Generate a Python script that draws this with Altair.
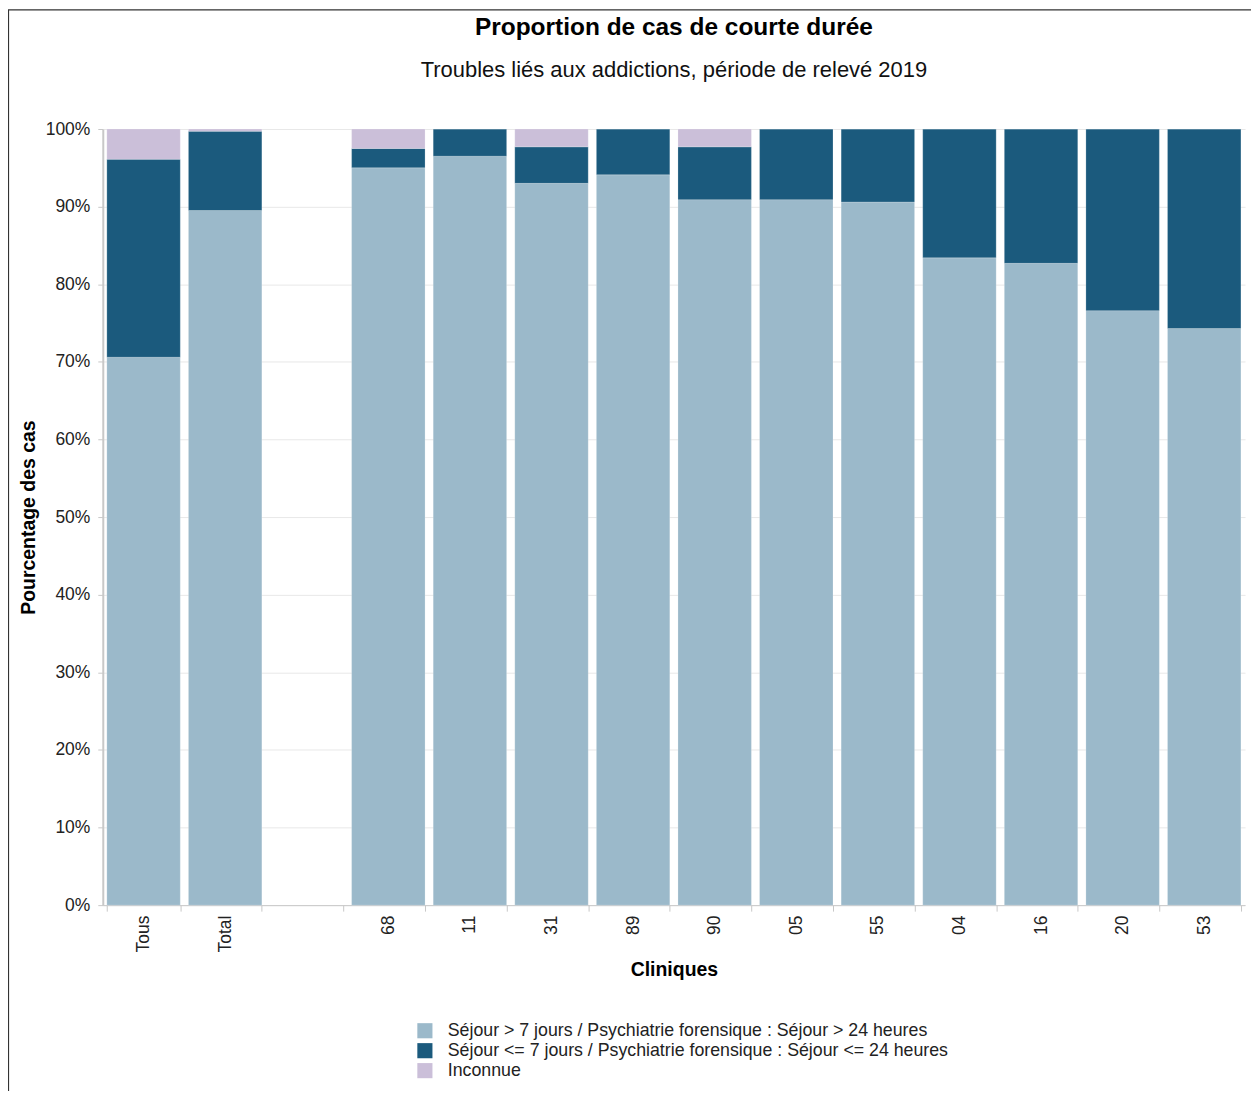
import altair as alt
import pandas as pd

# ---- data ----
categories = ["Tous", "Total", " ", "68", "11", "31", "89", "90", "05", "55", "04", "16", "20", "53"]
clinics = ["Tous", "Total", "68", "11", "31", "89", "90", "05", "55", "04", "16", "20", "53"]
long_stay = [70.6, 89.5, 95.0, 96.5, 93.0, 94.1, 90.9, 90.9, 90.6, 83.4, 82.7, 76.6, 74.3]
short_stay = [25.5, 10.2, 2.5, 3.5, 4.7, 5.9, 6.8, 9.1, 9.4, 16.6, 17.3, 23.4, 25.7]
unknown = [3.9, 0.3, 2.5, 0.0, 2.3, 0.0, 2.3, 0.0, 0.0, 0.0, 0.0, 0.0, 0.0]

series = [
    "Séjour > 7 jours / Psychiatrie forensique : Séjour > 24 heures",
    "Séjour <= 7 jours / Psychiatrie forensique : Séjour <= 24 heures",
    "Inconnue",
]
colors = ["#9bb9ca", "#1b5a7d", "#cbbfd9"]

rows = []
for i, c in enumerate(clinics):
    for k, vals in enumerate([long_stay, short_stay, unknown]):
        rows.append({"Clinique": c, "Série": series[k], "Pourcentage": vals[i], "ordre": k})
df = pd.DataFrame(rows)

FONT = "Liberation Sans"

bars = alt.Chart(df).mark_bar(stroke="#ffffff", strokeWidth=0.5, strokeOpacity=0.4).encode(
    x=alt.X(
        "Clinique:N",
        sort=categories,
        scale=alt.Scale(domain=categories, paddingInner=0.1, paddingOuter=0.05),
        axis=alt.Axis(
            title="Cliniques",
            labelAngle=270,
            labelFontSize=17.5,
            labelColor="#222222",
            labelPadding=4,
            tickBand="extent",
            tickSize=6,
            tickColor="#c8c8c8",
            domainColor="#c8c8c8",
            grid=False,
            titleFontSize=19.5,
            titleFontWeight="bold",
            titleColor="#000000",
            titlePadding=9,
        ),
    ),
    y=alt.Y(
        "Pourcentage:Q",
        stack="zero",
        scale=alt.Scale(domain=[0, 100]),
        axis=alt.Axis(
            title="Pourcentage des cas",
            values=list(range(0, 101, 10)),
            labelExpr="datum.value + '%'",
            labelFontSize=17.5,
            labelColor="#222222",
            labelPadding=8,
            tickSize=5,
            tickColor="#c8c8c8",
            domainColor="#c8c8c8",
            domainWidth=2,
            gridColor="#e8e8e8",
            titleFontSize=19.5,
            titleFontWeight="bold",
            titleColor="#000000",
            titlePadding=7,
        ),
    ),
    color=alt.Color(
        "Série:N",
        scale=alt.Scale(domain=series, range=colors),
        legend=alt.Legend(
            title=None,
            orient="none",
            legendX=314,
            legendY=895,
            direction="vertical",
            symbolType="square",
            symbolSize=230,
            symbolStrokeWidth=0,
            labelFontSize=17.8,
            labelColor="#222222",
            rowPadding=1,
            labelOffset=14,
            padding=0,
            labelLimit=800,
        ),
    ),
    order=alt.Order("ordre:Q", sort="ascending"),
)

frame = alt.Chart(alt.Data(values=[{}])).mark_rect(
    fill=None, stroke="#333333", strokeWidth=1.2
).encode(
    x=alt.value(-94.5), x2=alt.value(1400), y=alt.value(-119.5), y2=alt.value(1200)
)

chart = alt.layer(bars, frame).properties(
    width=1145,
    height=778,
    title=alt.TitleParams(
        "Proportion de cas de courte durée",
        subtitle="Troubles liés aux addictions, période de relevé 2019",
        font=FONT,
        subtitleFont=FONT,
        fontSize=24.5,
        fontWeight="bold",
        subtitleFontSize=22,
        color="#000000",
        subtitleColor="#111111",
        anchor="middle",
        offset=0,
        dy=73,
        subtitlePadding=20,
    ),
    autosize=alt.AutoSizeParams(type="none"),
    padding={"left": 95, "top": 120, "right": 6, "bottom": 185},
).configure(font=FONT).configure_view(stroke=None)

chart.save("out.html", embed_options={"renderer": "svg", "actions": False})
